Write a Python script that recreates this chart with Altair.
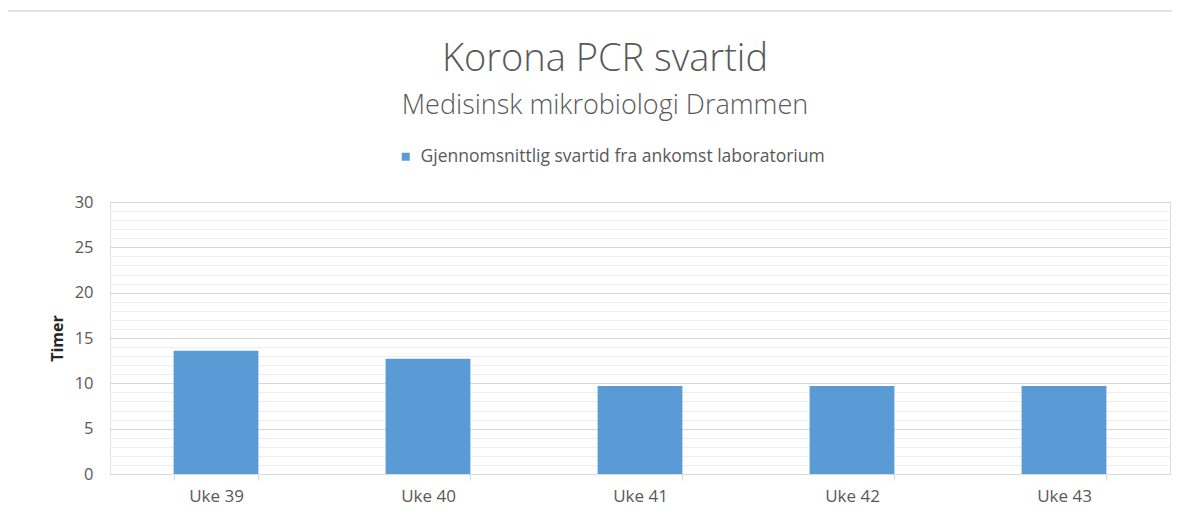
import altair as alt
import pandas as pd

weeks = ["Uke 39", "Uke 40", "Uke 41", "Uke 42", "Uke 43"]
hours = [13.6, 12.7, 9.7, 9.7, 9.7]
series_name = "Gjennomsnittlig svartid fra ankomst laboratorium"
y_values = list(range(0, 31))

title_text = "Korona PCR svartid"
subtitle_text = "Medisinsk mikrobiologi Drammen"
y_title = "Timer"

df = pd.DataFrame({"Uke": weeks, "Timer": hours, "Serie": [series_name] * len(weeks)})

W, H = 1060, 272
FONT = "Open Sans"
GREY = "#595959"

bars = alt.Chart(df).mark_bar(color="#5B9BD5").encode(
    x=alt.X(
        "Uke:N",
        sort=weeks,
        scale=alt.Scale(paddingInner=0.6, paddingOuter=0.3),
        axis=alt.Axis(
            title=None,
            labelAngle=0,
            tickBand="extent",
            ticks=True,
            tickSize=6,
            tickColor="#d9d9d9",
            domainColor="#d9d9d9",
            labelFontSize=17,
            labelColor=GREY,
            labelFont=FONT,
            labelPadding=8,
            grid=False,
        ),
    ),
    y=alt.Y(
        "Timer:Q",
        scale=alt.Scale(domain=[0, 30], nice=False),
        axis=alt.Axis(
            values=y_values,
            title=y_title,
            titleFont=FONT,
            titleFontSize=16,
            titleFontWeight="bold",
            titleColor="#262626",
            titlePadding=9,
            labelExpr="datum.value % 5 === 0 ? datum.label : ''",
            labelFontSize=16.5,
            labelColor=GREY,
            labelFont=FONT,
            labelPadding=17,
            ticks=False,
            domain=False,
            gridColor={"condition": {"test": "datum.value % 5 === 0", "value": "#d6d6d6"}, "value": "#eeeeee"},
        ),
    ),
    color=alt.Color(
        "Serie:N",
        scale=alt.Scale(range=["#5B9BD5"]),
        legend=alt.Legend(
            title=None,
            orient="none",
            legendX=287,
            legendY=-54,
            symbolType="square",
            symbolSize=64,
            symbolStrokeWidth=0,
            labelFont=FONT,
            labelFontSize=17.5,
            labelColor=GREY,
            labelOffset=6,
            labelLimit=1000,
            padding=0,
        ),
    ),
)

frame = alt.Chart(pd.DataFrame({"f": [0]})).mark_rect(
    filled=False, stroke="#d9d9d9", strokeWidth=1.5
).encode(
    x=alt.value(-104), x2=alt.value(W + 40), y=alt.value(-191), y2=alt.value(H + 80)
)

chart = alt.layer(frame, bars).properties(
    width=W,
    height=H,
    autosize=alt.AutoSizeParams(type="none"),
    padding={"left": 102, "top": 194, "right": 2, "bottom": 36},
    title=alt.TitleParams(
        text=title_text,
        subtitle=subtitle_text,
        anchor="middle",
        font=FONT,
        fontSize=38,
        fontWeight=300,
        color=GREY,
        subtitleFont=FONT,
        subtitleFontSize=27,
        subtitleFontWeight=300,
        subtitleColor=GREY,
        subtitlePadding=14,
        offset=0,
        dx=-35,
        dy=109,
    ),
).configure_view(stroke="transparent", strokeWidth=0).configure(background="white")

chart.save("out.html", embed_options={"renderer": "svg", "actions": False})
